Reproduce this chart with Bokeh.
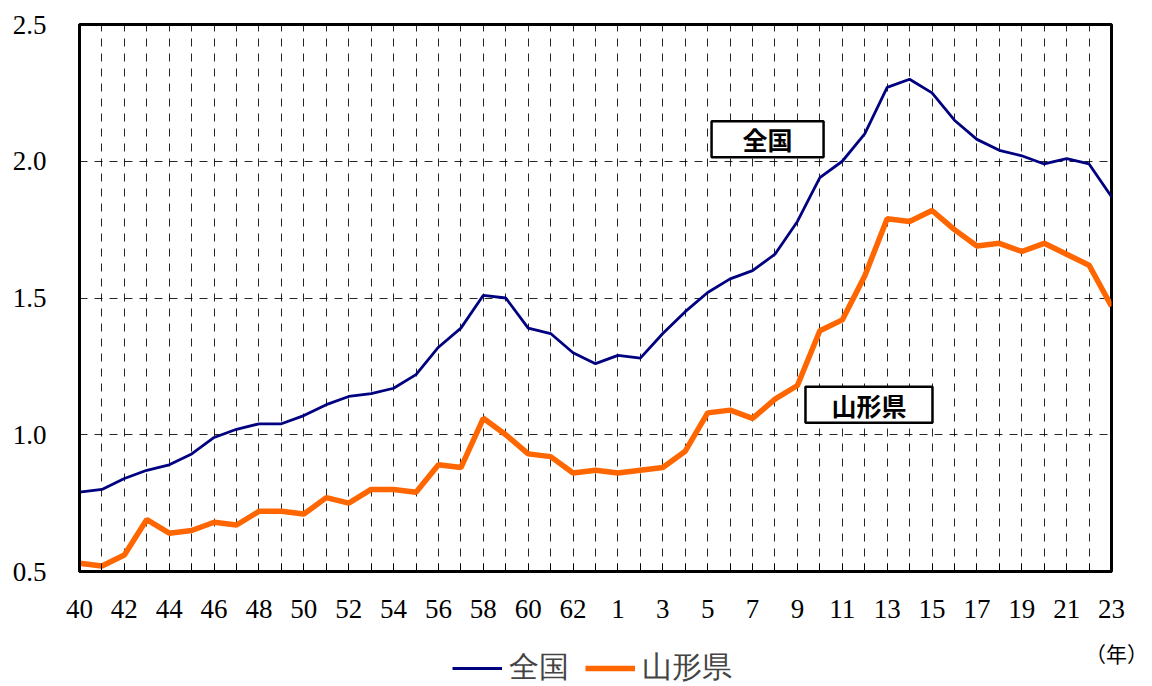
from bokeh.plotting import figure
from bokeh.layouts import column, row
from bokeh.models import FixedTicker, Range1d, Label, Legend, LegendItem
from bokeh.embed import file_html
from bokeh.resources import INLINE

# Year labels: Showa 40-63, then Heisei 1-23
years = [str(y) for y in range(40, 64)] + [str(y) for y in range(1, 24)]

national = [0.79, 0.80, 0.84, 0.87, 0.89, 0.93, 0.99, 1.02, 1.04, 1.04,
            1.07, 1.11, 1.14, 1.15, 1.17, 1.22, 1.32, 1.39, 1.51, 1.50,
            1.39, 1.37, 1.30, 1.26, 1.29, 1.28, 1.37, 1.45, 1.52, 1.57,
            1.60, 1.66, 1.78, 1.94, 2.00, 2.10, 2.27, 2.30, 2.25, 2.15,
            2.08, 2.04, 2.02, 1.99, 2.01, 1.99, 1.87]

yamagata = [0.53, 0.52, 0.56, 0.69, 0.64, 0.65, 0.68, 0.67, 0.72, 0.72,
            0.71, 0.77, 0.75, 0.80, 0.80, 0.79, 0.89, 0.88, 1.06, 1.00,
            0.93, 0.92, 0.86, 0.87, 0.86, 0.87, 0.88, 0.94, 1.08, 1.09,
            1.06, 1.13, 1.18, 1.38, 1.42, 1.58, 1.79, 1.78, 1.82, 1.75,
            1.69, 1.70, 1.67, 1.70, 1.66, 1.62, 1.47]

y_ticks = [0.5, 1.0, 1.5, 2.0, 2.5]
y_tick_labels = ["0.5", "1.0", "1.5", "2.0", "2.5"]

series_names = ["全国", "山形県"]
series_colors = ["#000080", "#FF6600"]
series_widths = [2.8, 5.5]
unit_label = "（年）"

xs = list(range(len(years)))

SERIF = "Liberation Serif"
GOTHIC = "Noto Sans CJK JP"

W = 1152
p = figure(width=W, height=630, output_backend="svg", toolbar_location=None,
           x_range=Range1d(0, len(years) - 1), y_range=Range1d(0.5, 2.5),
           min_border_left=79, min_border_right=41, min_border_top=24, min_border_bottom=59,
           background_fill_color="white", border_fill_color="white")

p.outline_line_color = "black"
p.outline_line_width = 3

# x axis
p.xaxis.ticker = FixedTicker(ticks=xs)
p.xaxis.major_label_overrides = {i: (years[i] if i % 2 == 0 else "") for i in xs}
p.xaxis.major_tick_in = 8
p.xaxis.major_tick_out = 0
p.xaxis.minor_tick_line_color = None
p.xaxis.major_tick_line_color = "black"
p.xaxis.axis_line_color = "black"
p.xaxis.axis_line_width = 3
p.xaxis.major_label_text_font = SERIF
p.xaxis.major_label_text_font_size = "27px"
p.xaxis.major_label_text_color = "black"
p.xaxis.major_label_standoff = 28

# y axis
p.yaxis.ticker = FixedTicker(ticks=y_ticks)
p.yaxis.major_label_overrides = {t: l for t, l in zip(y_ticks, y_tick_labels)}
p.yaxis.major_tick_in = 0
p.yaxis.major_tick_out = 0
p.yaxis.minor_tick_line_color = None
p.yaxis.axis_line_color = "black"
p.yaxis.axis_line_width = 3
p.yaxis.major_label_text_font = SERIF
p.yaxis.major_label_text_font_size = "27px"
p.yaxis.major_label_text_color = "black"
p.yaxis.major_label_standoff = 33

# grids
p.xgrid.ticker = FixedTicker(ticks=xs)
p.xgrid.grid_line_color = "black"
p.xgrid.grid_line_alpha = 0.85
p.xgrid.grid_line_width = 1
p.xgrid.grid_line_dash = "8 7"
p.ygrid.ticker = FixedTicker(ticks=y_ticks)
p.ygrid.grid_line_color = "black"
p.ygrid.grid_line_alpha = 0.85
p.ygrid.grid_line_width = 1
p.ygrid.grid_line_dash = "8 7"

p.line(xs, national, line_color=series_colors[0], line_width=series_widths[0])
p.line(xs, yamagata, line_color=series_colors[1], line_width=series_widths[1])

# in-plot labels
for txt, lx, ly, pad in [(series_names[0], 30.67, 2.08, 31), (series_names[1], 35.19, 1.11, 26)]:
    p.add_layout(Label(x=lx, y=ly, text=txt, text_align="center", text_baseline="middle",
                       text_font=GOTHIC, text_font_style="bold", text_font_size="25px",
                       text_color="black", background_fill_color="white",
                       border_line_color="black", border_line_width=2.5,
                       padding=dict(left=pad, right=pad, top=0, bottom=0)))

# bottom strip: legend and unit label (pixel-space ranges)
H2 = 56
q = figure(width=W, height=H2, output_backend="svg", toolbar_location=None,
           x_range=Range1d(0, W), y_range=Range1d(0, H2),
           min_border_left=0, min_border_right=0, min_border_top=0, min_border_bottom=0,
           x_axis_type=None, y_axis_type=None,
           background_fill_color="white", border_fill_color="white")
q.outline_line_color = None
q.xgrid.visible = False
q.ygrid.visible = False

nan = float("nan")
leg_renderers = [q.line([nan], [nan], line_color=c, line_width=w)
                 for c, w in zip(series_colors, series_widths)]

legend = Legend(items=[LegendItem(label=n, renderers=[r]) for n, r in zip(series_names, leg_renderers)],
                location=(452, -2), orientation="horizontal",
                glyph_width=50, label_standoff=7, spacing=16, padding=0, margin=0,
                border_line_color=None, background_fill_alpha=0,
                label_text_font=SERIF, label_text_font_size="30px")
q.add_layout(legend, "center")

q.add_layout(Label(x=1116, y=34, text=unit_label, text_align="center", text_baseline="middle",
                   text_font=GOTHIC, text_font_size="21px", text_color="black"))

layout = column(p, row(q), spacing=0)
open("out.html", "w").write(file_html(layout, INLINE))
